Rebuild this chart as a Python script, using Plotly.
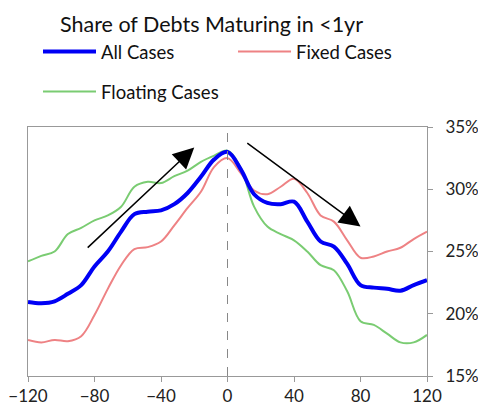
import plotly.graph_objects as go

# days relative to event
days = list(range(-120, 121, 8))

all_cases = [20.95, 20.85, 21.0, 21.6, 22.3, 23.8, 25.0, 26.6, 28.0, 28.2, 28.3,
             28.8, 29.7, 31.0, 32.4, 33.0, 31.6, 29.6, 28.9, 28.8, 29.0, 27.4,
             25.8, 25.4, 24.0, 22.3, 22.1, 22.0, 21.85, 22.3, 22.7]
fixed_cases = [17.9, 17.7, 17.9, 17.8, 18.2, 19.9, 22.0, 23.9, 25.2, 25.35, 25.8,
               27.1, 28.5, 29.8, 31.8, 32.5, 31.3, 29.9, 29.6, 30.2, 30.85, 29.7,
               27.9, 27.4, 25.9, 24.5, 24.6, 25.0, 25.3, 26.0, 26.6]
floating_cases = [24.2, 24.65, 25.0, 26.4, 26.9, 27.5, 27.9, 28.6, 30.2, 30.6, 30.5,
                  31.05, 31.5, 32.2, 32.7, 33.1, 31.7, 28.6, 27.0, 26.4, 25.9, 25.0,
                  23.9, 23.5, 21.8, 19.4, 19.1, 18.4, 17.7, 17.7, 18.3]

x_ticks = [-120, -80, -40, 0, 40, 80, 120]
y_ticks = [15, 20, 25, 30, 35]
y_labels = ["15%", "20%", "25%", "30%", "35%"]

font = "Lato, Noto Sans, sans-serif"
# page body adds an 8px margin, so the figure is a bit smaller than the window
W, H = 478, 405
fig = go.Figure()

# green first so blue sits on top
fig.add_trace(go.Scatter(x=days, y=floating_cases, mode="lines", name="Floating Cases",
                         line=dict(color="#7ACC72", width=2, shape="spline"),
                         legend="legend2"))
fig.add_trace(go.Scatter(x=days, y=fixed_cases, mode="lines", name="Fixed Cases",
                         line=dict(color="#EE8284", width=2, shape="spline"),
                         legend="legend3"))
fig.add_trace(go.Scatter(x=days, y=all_cases, mode="lines", name="All Cases",
                         line=dict(color="#0000F5", width=4, shape="spline")))

fig.add_vline(x=0, line=dict(color="#888888", width=1, dash="dash"))

# trend arrows
for (x0, y0, x1, y1) in [(-85, 25.2, -20, 33.35), (11, 33.8, 80, 27.0)]:
    fig.add_annotation(x=x1, y=y1, ax=x0, ay=y0, xref="x", yref="y",
                       axref="x", ayref="y", showarrow=True, text="",
                       arrowhead=2, arrowsize=2.8, arrowwidth=1.5, arrowcolor="black")

leg = dict(xref="container", yref="container", xanchor="left", yanchor="middle",
           orientation="h", itemwidth=53, font=dict(size=18.5, color="#111111"),
           bgcolor="rgba(0,0,0,0)")

fig.update_layout(
    width=W, height=H,
    margin=dict(l=20, r=59, t=119, b=37, autoexpand=False),
    paper_bgcolor="white", plot_bgcolor="white",
    font=dict(family=font, size=17, color="#222222"),
    title=dict(text="Share of Debts Maturing in <1yr", x=52 / W, xanchor="left",
               y=1 - 16 / H, yanchor="middle", font=dict(size=21.5, color="#111111")),
    showlegend=True,
    legend=dict(leg, x=30 / W, y=1 - 44 / H),
    legend2=dict(leg, x=30 / W, y=1 - 84 / H),
    legend3=dict(leg, x=225 / W, y=1 - 44 / H),
)

fig.update_xaxes(range=[-120, 120], tickvals=x_ticks, showgrid=False, zeroline=False,
                 showline=True, linecolor="#999999", mirror=True, automargin=False,
                 ticks="outside", ticklen=5, tickcolor="#999999")
fig.update_yaxes(range=[15, 35], tickvals=y_ticks, ticktext=y_labels, side="right",
                 showgrid=False, zeroline=False, showline=True, linecolor="#999999",
                 mirror=True, automargin=False, ticks="outside", ticklen=5,
                 tickcolor="#999999", ticklabelstandoff=9)

fig.write_html("out.html")
